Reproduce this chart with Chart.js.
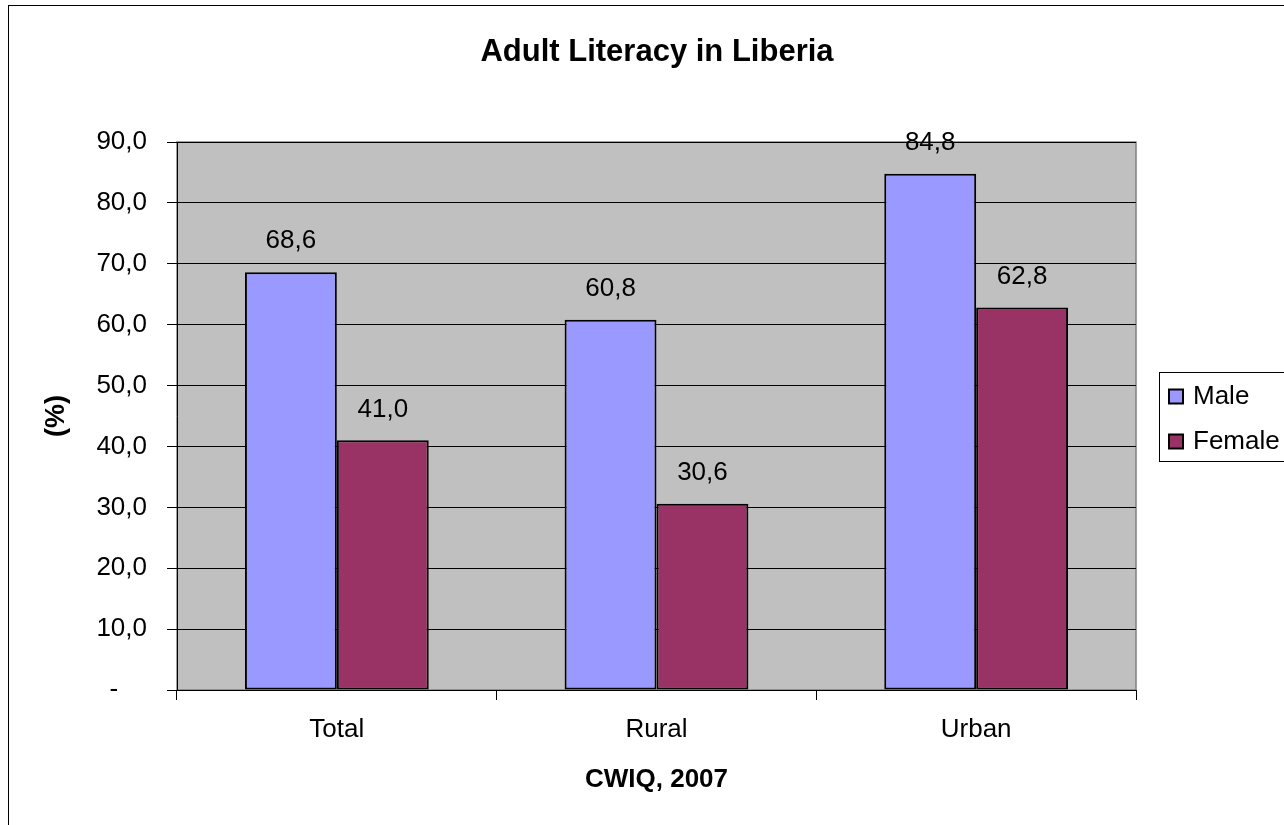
<!DOCTYPE html>
<html>
<head>
<meta charset="utf-8">
<title>Adult Literacy in Liberia</title>
<script src="https://cdn.jsdelivr.net/npm/chart.js@4.4.1/dist/chart.umd.min.js"></script>
<style>
    html, body { margin: 0; padding: 0; background: #ffffff; }
    #wrap { position: relative; width: 1284px; height: 825px; }
</style>
</head>
<body>
<div id="wrap"><canvas id="literacyChart"></canvas></div>
<script>
// Chart data
const categories = ['Total', 'Rural', 'Urban'];
const maleValues = [68.6, 60.8, 84.8];
const femaleValues = [41.0, 30.6, 62.8];
const seriesNames = ['Male', 'Female'];
const seriesColors = ['#9999FF', '#993366'];
const yTicks = [0, 10, 20, 30, 40, 50, 60, 70, 80, 90];

const FONT = "Arial, 'Liberation Sans', sans-serif";

function fmt(v) {
    return v.toFixed(1).replace('.', ',');
}

// Grey plot area + outer chart frame
const plotBackground = {
    id: 'plotBackground',
    beforeDraw(chart) {
        const {ctx, chartArea: a} = chart;
        ctx.save();
        ctx.strokeStyle = '#000000';
        ctx.lineWidth = 1;
        ctx.strokeRect(8.5, 5.5, chart.width + 20, chart.height + 20);
        ctx.fillStyle = '#C0C0C0';
        ctx.fillRect(a.left, a.top, a.right - a.left, a.bottom - a.top);
        ctx.strokeStyle = '#808080';
        ctx.lineWidth = 1.5;
        ctx.strokeRect(a.left, a.top, a.right - a.left, a.bottom - a.top);
        ctx.restore();
    }
};

// Value labels above bars
const valueLabels = {
    id: 'valueLabels',
    afterDatasetsDraw(chart) {
        const ctx = chart.ctx;
        ctx.save();
        ctx.font = '26px ' + FONT;
        ctx.fillStyle = '#000000';
        ctx.textAlign = 'center';
        ctx.textBaseline = 'middle';
        chart.data.datasets.forEach((ds, i) => {
            chart.getDatasetMeta(i).data.forEach((bar, j) => {
                ctx.fillText(fmt(ds.data[j]), bar.x, bar.y - 31);
            });
        });
        ctx.restore();
    }
};

// Boxed legend on the right
const boxLegend = {
    id: 'boxLegend',
    afterDraw(chart) {
        const ctx = chart.ctx;
        ctx.save();
        ctx.strokeStyle = '#000000';
        ctx.lineWidth = 1;
        ctx.strokeRect(1159.5, 372.5, 200, 89);
        ctx.font = '26px ' + FONT;
        ctx.textAlign = 'left';
        ctx.textBaseline = 'middle';
        chart.data.datasets.forEach((ds, i) => {
            const cy = 396.5 + i * 45;
            ctx.fillStyle = ds.backgroundColor;
            ctx.fillRect(1169, cy - 7, 14, 14);
            ctx.strokeStyle = '#000000';
            ctx.lineWidth = 2;
            ctx.strokeRect(1169, cy - 7, 14, 14);
            ctx.fillStyle = '#000000';
            ctx.fillText(ds.label, 1193, cy);
        });
        ctx.restore();
    }
};

const ctx = document.getElementById('literacyChart');
new Chart(ctx, {
    type: 'bar',
    data: {
        labels: categories,
        datasets: [
            {
                label: seriesNames[0],
                data: maleValues,
                backgroundColor: seriesColors[0],
                borderColor: '#000000',
                borderWidth: 2,
                borderSkipped: false
            },
            {
                label: seriesNames[1],
                data: femaleValues,
                backgroundColor: seriesColors[1],
                borderColor: '#000000',
                borderWidth: 2,
                borderSkipped: false
            }
        ]
    },
    options: {
        responsive: true,
        maintainAspectRatio: false,
        animation: false,
        categoryPercentage: 0.575,
        barPercentage: 1.0,
        layout: {
            padding: { left: 30, right: 0, top: 0, bottom: 0 }
        },
        plugins: {
            legend: { display: false },
            tooltip: { enabled: false },
            title: {
                display: true,
                text: 'Adult Literacy in Liberia',
                color: '#000000',
                font: { family: FONT, size: 31, weight: 'bold', lineHeight: 1.2 },
                padding: { top: 33.4, bottom: 71.4 }
            }
        },
        scales: {
            x: {
                offset: true,
                grid: {
                    offset: true,
                    drawOnChartArea: false,
                    drawTicks: true,
                    tickLength: 10,
                    color: '#000000'
                },
                border: { color: '#000000', width: 1 },
                ticks: {
                    color: '#000000',
                    padding: 14.4,
                    font: { family: FONT, size: 26, lineHeight: 1.2 }
                },
                title: {
                    display: true,
                    text: 'CWIQ, 2007',
                    color: '#000000',
                    font: { family: FONT, size: 26, weight: 'bold', lineHeight: 1.2 },
                    padding: { top: 0, bottom: 29.4 }
                },
                afterFit(scale) { scale.height = 135; }
            },
            y: {
                min: 0,
                max: 90,
                afterBuildTicks(scale) {
                    scale.ticks = yTicks.map(v => ({ value: v }));
                },
                grid: {
                    color: '#000000',
                    lineWidth: 1,
                    tickLength: 10
                },
                border: { color: '#000000', width: 1 },
                ticks: {
                    color: '#000000',
                    padding: 20,
                    font: { family: FONT, size: 26, lineHeight: 1.2 },
                    callback: function(value) {
                        return value === 0 ? '-    ' : fmt(value);
                    }
                },
                title: {
                    display: true,
                    text: '(%)',
                    color: '#000000',
                    font: { family: FONT, size: 27, weight: 'bold', lineHeight: 1.2 },
                    padding: { top: 10.8, bottom: 0 }
                },
                afterFit(scale) { scale.width = 147; }
            },
            spacer: {
                position: 'right',
                display: true,
                grid: { display: false },
                border: { display: false },
                ticks: { display: false },
                afterFit(scale) { scale.width = 148; }
            }
        }
    },
    plugins: [plotBackground, valueLabels, boxLegend]
});
</script>
</body>
</html>
